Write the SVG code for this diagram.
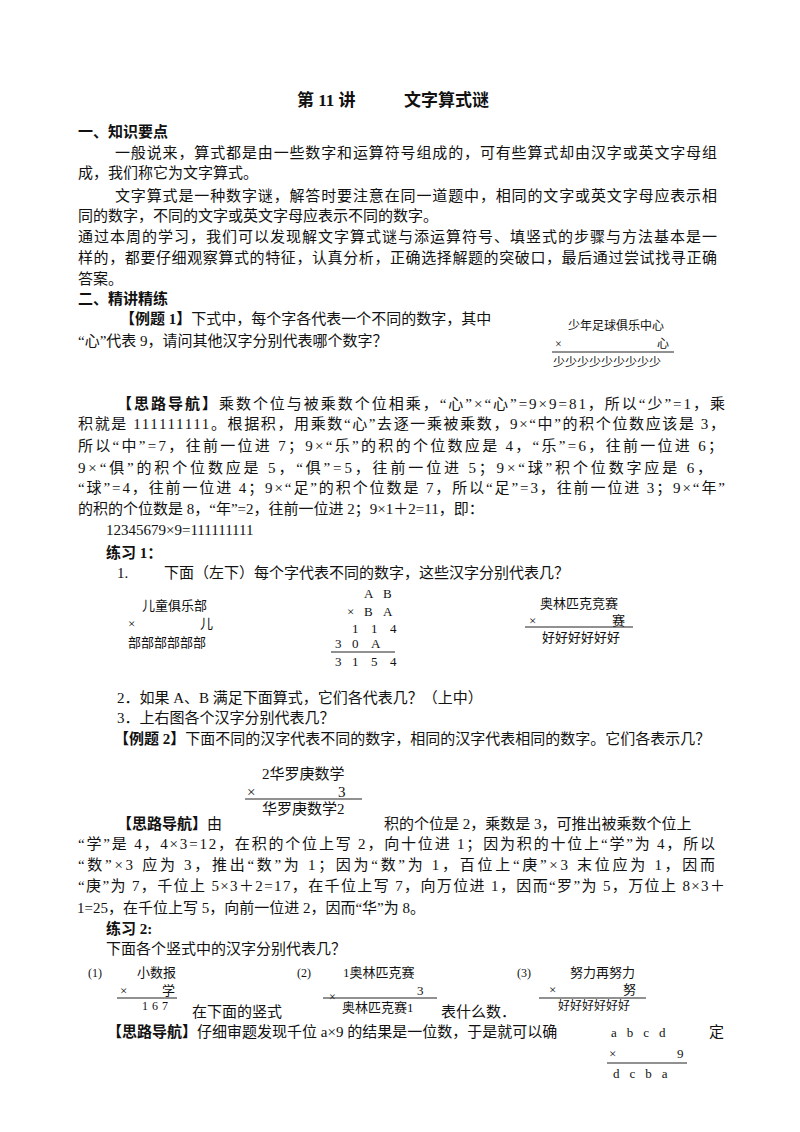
<svg xmlns="http://www.w3.org/2000/svg" width="800" height="1132" viewBox="0 0 800 1132">
<style>
text{font-family:"Liberation Serif","Noto Sans CJK SC",serif;font-size:15px;fill:#111}
.b{font-weight:bold}
.t{font-size:17px;font-weight:bold}
.s{font-size:12px}
.m{font-size:13px}
line{stroke:#222;stroke-width:1}
</style>
<rect width="800" height="1132" fill="#fff"/>
<text class="t" x="297" y="106">第 11 讲</text>
<text class="t" x="404" y="106">文字算式谜</text>
<text class="b" x="78" y="137">一、知识要点</text>
<text x="115" y="158" textLength="602" lengthAdjust="spacing">一般说来，算式都是由一些数字和运算符号组成的，可有些算式却由汉字或英文字母组</text>
<text x="78" y="178">成，我们称它为文字算式。</text>
<text x="115" y="201" textLength="602" lengthAdjust="spacing">文字算式是一种数字谜，解答时要注意在同一道题中，相同的文字或英文字母应表示相</text>
<text x="78" y="221">同的数字，不同的文字或英文字母应表示不同的数字。</text>
<text x="78" y="242" textLength="639" lengthAdjust="spacing">通过本周的学习，我们可以发现解文字算式谜与添运算符号、填竖式的步骤与方法基本是一</text>
<text x="78" y="263" textLength="639" lengthAdjust="spacing">样的，都要仔细观察算式的特征，认真分析，正确选择解题的突破口，最后通过尝试找寻正确</text>
<text x="78" y="284">答案。</text>
<text class="b" x="78" y="304">二、精讲精练</text>
<text x="120" y="324"><tspan class="b">【例题 1】</tspan>下式中，每个字各代表一个不同的数字，其中</text>
<text x="78" y="346">“心”代表 9，请问其他汉字分别代表哪个数字？</text>
<g id="fig1">
<text class="s" x="568" y="330">少年足球俱乐中心</text>
<text class="s" x="555" y="348">×</text>
<text class="s" x="657" y="348">心</text>
<line x1="552" y1="352" x2="674" y2="352"/>
<text class="s" x="553" y="367">少少少少少少少少少</text>
</g>
<text x="117" y="409" textLength="608" lengthAdjust="spacing"><tspan class="b">【思路导航】</tspan>乘数个位与被乘数个位相乘，“心”×“心”=9×9=81，所以“少”=1，乘</text>
<text x="78" y="429" textLength="647" lengthAdjust="spacing">积就是 111111111。根据积，用乘数“心”去逐一乘被乘数，9×“中”的积个位数应该是 3，</text>
<text x="78" y="451" textLength="645" lengthAdjust="spacing">所以“中”=7，往前一位进 7；9×“乐”的积的个位数应是 4，“乐”=6，往前一位进 6；</text>
<text x="78" y="473" textLength="634" lengthAdjust="spacing">9×“俱”的积个位数应是 5，“俱”=5，往前一位进 5；9×“球”积个位数字应是 6，</text>
<text x="78" y="493" textLength="647" lengthAdjust="spacing">“球”=4，往前一位进 4；9×“足”的积个位数是 7，所以“足”=3，往前一位进 3；9×“年”</text>
<text x="78" y="514">的积的个位数是 8，“年”=2，往前一位进 2；9×1＋2=11，即：</text>
<text x="106" y="535">12345679×9=111111111</text>
<text class="b" x="106" y="558">练习 1：</text>
<text x="117" y="578">1.</text>
<text x="164" y="578">下面（左下）每个字代表不同的数字，这些汉字分别代表几？</text>
<g id="fig2">
<text class="m" x="142" y="610">儿童俱乐部</text>
<text class="m" x="128" y="628">×</text>
<text class="m" x="200" y="628">儿</text>
<text class="m" x="128" y="647">部部部部部部</text>
</g>
<g id="fig3">
<text class="m" x="364" y="598">A</text><text class="m" x="383" y="598">B</text>
<text class="m" x="347" y="616">×</text><text class="m" x="364" y="616">B</text><text class="m" x="383" y="616">A</text>
<text class="m" x="352" y="633">1</text><text class="m" x="371" y="633">1</text><text class="m" x="390" y="633">4</text>
<text class="m" x="335" y="648">3</text><text class="m" x="352" y="648">0</text><text class="m" x="371" y="648">A</text>
<line x1="331" y1="652" x2="395" y2="652"/>
<text class="m" x="335" y="666">3</text><text class="m" x="352" y="666">1</text><text class="m" x="371" y="666">5</text><text class="m" x="390" y="666">4</text>
</g>
<g id="fig4">
<text class="m" x="540" y="608">奥林匹克竞赛</text>
<text class="m" x="529" y="625">×</text>
<text class="m" x="612" y="625">赛</text>
<line x1="525" y1="627" x2="633" y2="627"/>
<text class="m" x="542" y="642">好好好好好好</text>
</g>
<text x="117" y="703">2．如果 A、B 满足下面算式，它们各代表几？（上中）</text>
<text x="117" y="723">3．上右图各个汉字分别代表几？</text>
<text x="114" y="744"><tspan class="b">【例题 2】</tspan>下面不同的汉字代表不同的数字，相同的汉字代表相同的数字。它们各表示几？</text>
<g id="fig5">
<text x="262" y="779">2华罗庚数学</text>
<text x="247" y="797">×</text>
<text x="338" y="797">3</text>
<line x1="245" y1="799" x2="362" y2="799"/>
<text x="262" y="814">华罗庚数学2</text>
</g>
<text x="117" y="829"><tspan class="b">【思路导航】</tspan>由</text>
<text x="384" y="829">积的个位是 2，乘数是 3，可推出被乘数个位上</text>
<text x="78" y="849" textLength="637" lengthAdjust="spacing">“学”是 4，4×3=12，在积的个位上写 2，向十位进 1；因为积的十位上“学”为 4，所以</text>
<text x="78" y="870" textLength="637" lengthAdjust="spacing">“数”×3 应为 3，推出“数”为 1；因为“数”为 1，百位上“庚”×3 末位应为 1，因而</text>
<text x="78" y="891" textLength="647" lengthAdjust="spacing">“庚”为 7，千位上 5×3＋2=17，在千位上写 7，向万位进 1，因而“罗”为 5，万位上 8×3＋</text>
<text x="77" y="913">1=25，在千位上写 5，向前一位进 2，因而“华”为 8。</text>
<text class="b" x="106" y="934">练习 2:</text>
<text x="106" y="954">下面各个竖式中的汉字分别代表几？</text>
<g id="p1">
<text class="s" x="88" y="977">(1)</text>
<text class="m" x="137" y="977">小数报</text>
<text class="m" x="120" y="995">×</text>
<text class="m" x="162" y="995">学</text>
<line x1="117" y1="998" x2="177" y2="998"/>
<text class="s" x="142" y="1010" letter-spacing="4">167</text>
</g>
<text x="192" y="1017">在下面的竖式</text>
<g id="p2">
<text class="s" x="297" y="977">(2)</text>
<text class="m" x="343" y="977">1奥林匹克赛</text>
<text class="m" x="417" y="995">3</text>
<line x1="323" y1="998" x2="437" y2="998"/>
<text class="s" x="329" y="1001" font-size="9">×</text>
<text class="m" x="342" y="1012">奥林匹克赛1</text>
</g>
<text x="441" y="1017">表什么数．</text>
<g id="p3">
<text class="s" x="517" y="977">(3)</text>
<text class="m" x="570" y="977">努力再努力</text>
<text class="m" x="549" y="994">×</text>
<text class="m" x="623" y="994">努</text>
<line x1="539" y1="998" x2="646" y2="998"/>
<text class="s" x="558" y="1010">好好好好好好</text>
</g>
<text x="107" y="1037"><tspan class="b">【思路导航】</tspan>仔细审题发现千位 a×9 的结果是一位数，于是就可以确</text>
<text x="709" y="1037">定</text>
<g id="fig6">
<text class="m" x="611" y="1037" letter-spacing="10">abcd</text>
<text class="m" x="609" y="1058">×</text>
<text class="m" x="677" y="1058">9</text>
<line x1="607" y1="1063" x2="687" y2="1063"/>
<text class="m" x="613" y="1078" letter-spacing="10">dcba</text>
</g>
</svg>
